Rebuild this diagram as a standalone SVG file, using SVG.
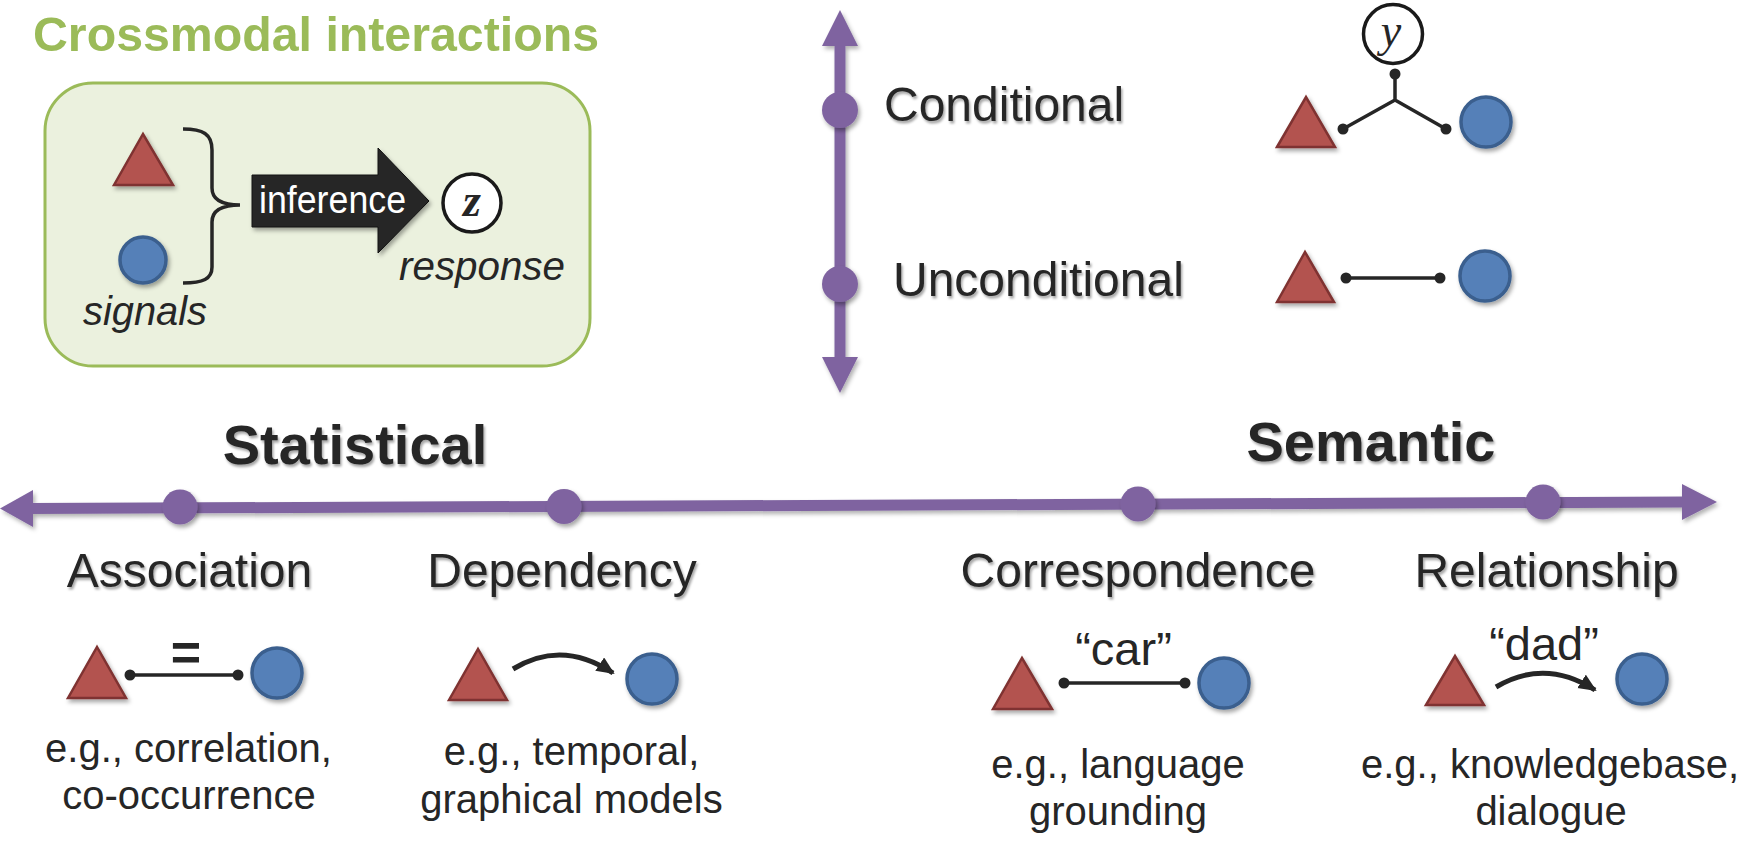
<svg xmlns="http://www.w3.org/2000/svg" width="1750" height="842" viewBox="0 0 1750 842">
<defs>
<filter id="sh" x="-30%" y="-30%" width="170%" height="170%"><feDropShadow dx="2" dy="3" stdDeviation="2" flood-color="#000" flood-opacity="0.35"/></filter>
<filter id="shu" filterUnits="userSpaceOnUse" x="0" y="0" width="1750" height="842"><feDropShadow dx="2" dy="3" stdDeviation="2" flood-color="#000" flood-opacity="0.3"/></filter>
<filter id="tsh" x="-10%" y="-20%" width="130%" height="150%"><feDropShadow dx="1.5" dy="2.5" stdDeviation="1.2" flood-color="#000" flood-opacity="0.35"/></filter>
<marker id="ah" markerUnits="userSpaceOnUse" markerWidth="22" markerHeight="18" refX="16" refY="8" orient="auto"><path d="M0,0 L18,8 L0,16 Z" fill="#262626"/></marker>
</defs>
<style>
.tri{fill:#B3534F;stroke:#7F3330;stroke-width:2.5;stroke-linejoin:miter;filter:url(#sh)}
.cir{fill:#5580B8;stroke:#3A5F8E;stroke-width:3.5;filter:url(#sh)}
.ax{fill:#7F64A0;stroke:none}
.ln{stroke:#262626;stroke-width:3.5;fill:none}
.dot{fill:#262626}
.crv{stroke:#262626;stroke-width:5;fill:none;marker-end:url(#ah)}
.lab{font-family:"Liberation Sans",Arial,sans-serif;font-size:48px;fill:#262626;filter:url(#tsh)}
.hd{font-family:"Liberation Sans",Arial,sans-serif;font-size:56px;font-weight:bold;fill:#262626;filter:url(#tsh)}
.eg{font-family:"Liberation Sans",Arial,sans-serif;font-size:40px;fill:#262626;text-anchor:middle}
.it{font-family:"Liberation Sans",Arial,sans-serif;font-size:40px;font-style:italic;fill:#262626}
.q{font-family:"Liberation Sans",Arial,sans-serif;font-size:47px;fill:#262626;text-anchor:middle}
.math{font-family:"Liberation Serif","Times New Roman",serif;font-style:italic;font-size:46px;fill:#262626;text-anchor:middle}
</style>
<rect width="1750" height="842" fill="#fff"/>

<g id="title">
<text x="33" y="51" font-family="Liberation Sans,Arial,sans-serif" font-weight="bold" font-size="48" fill="#9BBB59" textLength="566" lengthAdjust="spacingAndGlyphs">Crossmodal interactions</text>
</g>

<g id="inference-box">
<rect x="45" y="83" width="545" height="283" rx="48" ry="48" fill="#EBF1DE" stroke="#9BBB59" stroke-width="3"/>
<polygon class="tri" points="114,185 143,134 173,185"/>
<circle class="cir" cx="143" cy="260" r="23"/>
<text class="it" x="83" y="325" textLength="124" lengthAdjust="spacingAndGlyphs">signals</text>
<path d="M183,129 C203,129 212,134 212,150 L212,188 C212,199 220,205 240,205 C220,205 212,211 212,222 L212,267 C212,279 203,283 183,283" stroke="#262626" stroke-width="3.5" fill="none"/>
<polygon points="252,175 378,175 378,148 429,201 378,253 378,227 252,227" fill="#262626" stroke="#111" stroke-width="1" filter="url(#sh)"/>
<text x="259" y="213" font-family="Liberation Sans,Arial,sans-serif" font-size="39" fill="#fff" textLength="147" lengthAdjust="spacingAndGlyphs">inference</text>
<circle cx="472" cy="203" r="29" fill="#fff" stroke="#1a1a1a" stroke-width="3.5"/>
<text class="math" x="472" y="216" font-weight="bold">z</text>
<text class="it" x="399" y="280" textLength="166" lengthAdjust="spacingAndGlyphs">response</text>
</g>

<g id="vertical-axis" filter="url(#shu)">
<rect class="ax" x="834.5" y="44" width="11" height="315"/>
<polygon class="ax" points="840,10 858,46 822,46"/>
<polygon class="ax" points="840,393 858,357 822,357"/>
</g>

<g id="conditional">
<circle class="ax" cx="840" cy="110" r="18" filter="url(#sh)"/>
<text class="lab" x="884" y="121">Conditional</text>
<polygon class="tri" points="1277,147 1306,97 1335,147"/>
<circle class="cir" cx="1486" cy="122" r="25"/>
<circle cx="1393" cy="34" r="29.5" fill="#fff" stroke="#1a1a1a" stroke-width="3.5"/>
<text class="math" x="1391" y="46">y</text>
</g>

<g id="unconditional">
<circle class="ax" cx="840" cy="284" r="18" filter="url(#sh)"/>
<text class="lab" x="893" y="296">Unconditional</text>
<polygon class="tri" points="1277,302 1305,252 1334,302"/>
<circle class="cir" cx="1485" cy="276" r="25"/>
</g>

<g id="horizontal-axis">
<g filter="url(#shu)">
<polygon class="ax" points="30,503 1685,496.5 1685,507.5 30,514"/>
<polygon class="ax" points="0,508.5 33,490 33,527"/>
<polygon class="ax" points="1717,502 1682,484 1682,520"/>
</g>
<text class="hd" x="355" y="464" text-anchor="middle">Statistical</text>
<text class="hd" x="1371" y="461" text-anchor="middle">Semantic</text>
</g>

<g id="association">
<circle class="ax" cx="180" cy="507" r="17.5" filter="url(#sh)"/>
<text class="lab" x="189.5" y="587" text-anchor="middle">Association</text>
<polygon class="tri" points="68,698 97,647 126,698"/>
<circle class="cir" cx="277" cy="673" r="25"/>
<text x="186" y="670" font-family="Liberation Sans,Arial,sans-serif" font-weight="bold" font-size="52" fill="#262626" text-anchor="middle">=</text>
<text class="eg" x="188.5" y="762">e.g., correlation,</text>
<text class="eg" x="189" y="809">co-occurrence</text>
</g>

<g id="dependency">
<circle class="ax" cx="564" cy="506.5" r="17.5" filter="url(#sh)"/>
<text class="lab" x="562" y="587" text-anchor="middle">Dependency</text>
<polygon class="tri" points="449,700 478,649 507,700"/>
<circle class="cir" cx="652" cy="679" r="25"/>
<text class="eg" x="571.5" y="765">e.g., temporal,</text>
<text class="eg" x="571.5" y="813">graphical models</text>
</g>

<g id="correspondence">
<circle class="ax" cx="1138" cy="504" r="17.5" filter="url(#sh)"/>
<text class="lab" x="1138" y="587" text-anchor="middle">Correspondence</text>
<polygon class="tri" points="993,709 1022,658 1052,709"/>
<circle class="cir" cx="1224" cy="683" r="25"/>
<text class="q" x="1123.5" y="665">“car”</text>
<text class="eg" x="1118" y="778">e.g., language</text>
<text class="eg" x="1118" y="825">grounding</text>
</g>

<g id="relationship">
<circle class="ax" cx="1543" cy="502" r="17.5" filter="url(#sh)"/>
<text class="lab" x="1546.5" y="587" text-anchor="middle">Relationship</text>
<polygon class="tri" points="1426,705 1455,656 1484,705"/>
<circle class="cir" cx="1642" cy="679" r="25"/>
<text class="q" x="1544" y="660">“dad”</text>
<text class="eg" x="1550" y="778">e.g., knowledgebase,</text>
<text class="eg" x="1551" y="825">dialogue</text>
</g>

<g id="connectors">
<path class="ln" d="M1395,74 L1395,100 L1343,129 M1395,100 L1446,129"/>
<circle class="dot" cx="1395" cy="74" r="5.5"/>
<circle class="dot" cx="1343" cy="129" r="5.5"/>
<circle class="dot" cx="1446" cy="129" r="5.5"/>
<line class="ln" x1="1346" y1="278" x2="1440" y2="278"/>
<circle class="dot" cx="1346" cy="278" r="5.5"/>
<circle class="dot" cx="1440" cy="278" r="5.5"/>
<line class="ln" x1="130" y1="675" x2="238" y2="675"/>
<circle class="dot" cx="130" cy="675" r="5.5"/>
<circle class="dot" cx="238" cy="675" r="5.5"/>
<line class="ln" x1="1064" y1="683" x2="1185" y2="683"/>
<circle class="dot" cx="1064" cy="683" r="5.5"/>
<circle class="dot" cx="1185" cy="683" r="5.5"/>
<path class="crv" d="M513,669 Q562,639 613,673"/>
<path class="crv" d="M1496,687 Q1545,658 1595,690"/>
</g>
</svg>
